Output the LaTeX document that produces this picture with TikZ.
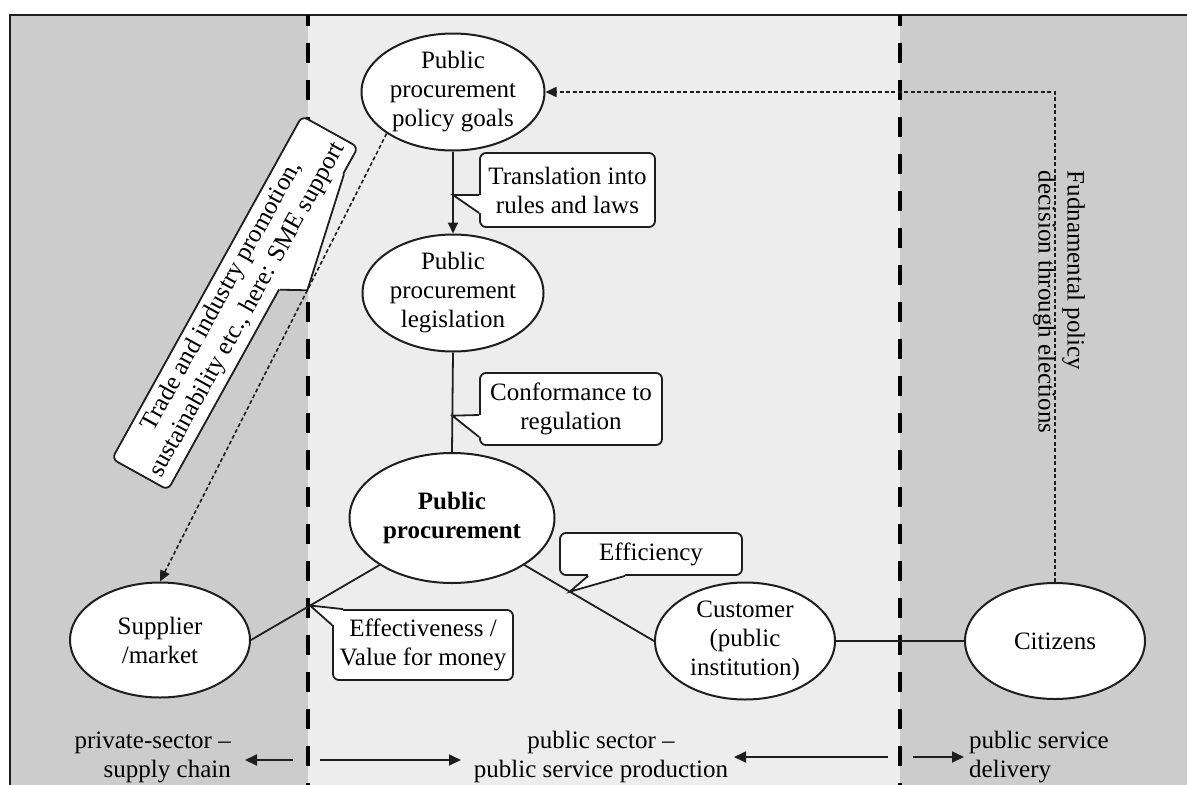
\documentclass[tikz,border=0pt]{standalone}
\usepackage{fontspec}
\setmainfont{Liberation Serif}
\usetikzlibrary{arrows.meta,calc,shapes.geometric}
\definecolor{sidebg}{RGB}{204,204,204}
\definecolor{midbg}{RGB}{237,237,237}
\definecolor{ink}{RGB}{30,30,30}

% white wedge of a speech-bubble box: base b1, tip, base b2, then two inner points
\newcommand\calloutpointer[5]{%
  \fill[white] (#1) -- (#2) -- (#3) -- (#5) -- (#4) -- cycle;
  \draw[ink,line width=1.8pt,line join=miter] (#1) -- (#2) -- (#3);}

\begin{document}
\begin{tikzpicture}[x=1pt,y=-1pt,
  font=\fontsize{25}{29}\selectfont,
  ell/.style={ellipse,draw=ink,line width=2pt,fill=white,inner sep=0pt,align=center},
  note/.style={draw=ink,line width=1.8pt,fill=white,rounded corners=6pt,inner sep=0pt,align=center},
  link/.style={draw=ink,line width=1.8pt},
  dotlink/.style={draw=ink,line width=1.6pt,dash pattern=on 4pt off 2.5pt},
  tip/.style={-{Triangle[length=11pt,width=10pt]}},
  bigtip/.style={-{Triangle[length=12pt,width=11pt]}},
  zone/.style={draw=black,line width=4.5pt,dash pattern=on 20pt off 17pt,dash phase=9.5pt},
]
\useasboundingbox (0,0) rectangle (1187,785);
\fill[white] (0,0) rectangle (1187,785);

% sector backgrounds and frame
\fill[sidebg] (10,15) rectangle (308,785);
\fill[midbg] (308,15) rectangle (900,785);
\fill[sidebg] (900,15) rectangle (1187,785);
\draw[ink,line width=2pt] (10,785) -- (10,15) -- (1187,15);

% sector boundaries
\draw[zone] (308,15) -- (308,785);
\draw[zone] (900,15) -- (900,785);

% main actors
\node[ell,minimum width=183pt,minimum height=117pt] (goals) at (453,92) {Public\\procurement\\policy goals};
\node[ell,minimum width=181pt,minimum height=117pt] (law) at (453,293) {Public\\procurement\\legislation};
\node[ell,minimum width=205pt,minimum height=130pt,font=\fontsize{25}{29}\selectfont\bfseries] (pp) at (452,518) {Public\\procurement};
\node[ell,minimum width=180pt,minimum height=115pt] (sup) at (160,640) {Supplier\\/market};
\node[ell,minimum width=180pt,minimum height=117pt] (cust) at (745,641) {Customer\\(public\\institution)};
\node[ell,minimum width=180pt,minimum height=116pt] (cit) at (1055,641) {Citizens};

% vertical label along the election feedback
\node[rotate=-90,align=left,inner sep=0pt] (vote) at (1059,302) {Fudnamental policy\\decision through elections};

% relations
\draw[link,tip] (goals.south) -- (law.north);
\draw[link] (law.south) -- (pp.north);
\draw[link] (pp.213) -- (sup.east);
\draw[link] (pp.327) -- (cust.west);
\draw[link] (cust.east) -- (cit.west);
\draw[dotlink,tip] (cit.north) |- (goals.east);
\draw[dotlink,tip] (goals.212) -- (sup.north);

% points the speech bubbles refer to
\coordinate (transT) at ($(goals.south)!0.53!(law.north)$);
\coordinate (confT) at ($(law.south)!0.635!(pp.north)$);
\coordinate (effT) at ($(pp.327)!0.35!(cust.west)$);
\coordinate (valT) at ($(pp.213)!0.54!(sup.east)$);
\coordinate (tradeT) at ($(goals.212)!0.35!(sup.north)$);

% speech bubbles
\node[note,minimum width=175pt,minimum height=74pt] (trans) at (567.5,190) {Translation into\\rules and laws};
\calloutpointer{$(trans.west)+(0,5)$}{transT}{$(trans.west)+(0,23)$}{$(trans.west)+(4,5)$}{$(trans.west)+(4,23)$}

\node[note,minimum width=182pt,minimum height=72pt] (conf) at (571,409) {Conformance to\\regulation};
\calloutpointer{$(conf.west)+(0,6)$}{confT}{$(conf.west)+(0,28)$}{$(conf.west)+(4,6)$}{$(conf.west)+(4,28)$}

\node[note,minimum width=182pt,minimum height=42pt] (eff) at (651,554) {Efficiency};
\calloutpointer{$(eff.south)+(-63,0)$}{effT}{$(eff.south)+(-26,0)$}{$(eff.south)+(-63,-4)$}{$(eff.south)+(-26,-4)$}

\node[note,minimum width=180pt,minimum height=70pt] (val) at (423,645) {Effectiveness /\\Value for money};
\calloutpointer{$(val.north west)+(0,16)$}{valT}{$(val.north west)+(11,0)$}{$(val.north west)+(4,16)$}{$(val.north west)+(11,4)$}

\node[note,rotate=61,minimum width=392pt,minimum height=64pt] (trade) at (235,303) {Trade and industry promotion,\\sustainability etc., here: SME support};
\coordinate (tb1) at ($(trade.south)!0.84!(trade.south east)$);
\coordinate (tn1) at ($(trade.north)!0.84!(trade.north east)$);
\coordinate (tb2) at ($(trade.south)!0.17!(trade.south east)$);
\coordinate (tn2) at ($(trade.north)!0.17!(trade.north east)$);
\coordinate (tb1in) at ($(tb1)!4pt!(tn1)$);
\coordinate (tb2in) at ($(tb2)!4pt!(tn2)$);
\calloutpointer{tb1}{tradeT}{tb2}{tb1in}{tb2in}

% sector captions
\node[anchor=east,align=right,inner sep=0pt] (priv) at (231,757) {private-sector –\\supply chain};
\node[align=center,inner sep=0pt] (pub) at (601,757) {public sector –\\public service production};
\node[anchor=west,align=left,inner sep=0pt] (deliv) at (969,757) {public service\\delivery};

\coordinate (p1) at (293,760);
\coordinate (p2) at (245,760);
\coordinate (m1) at (320,760);
\coordinate (m2) at (461,760);
\coordinate (m3) at (888,757);
\coordinate (m4) at (734,757);
\coordinate (d1) at (913,757);
\coordinate (d2) at (964,757);
\draw[link,bigtip] (p1) -- (p2);
\draw[link,bigtip] (m1) -- (m2);
\draw[link,bigtip] (m3) -- (m4);
\draw[link,bigtip] (d1) -- (d2);
\end{tikzpicture}
\end{document}
